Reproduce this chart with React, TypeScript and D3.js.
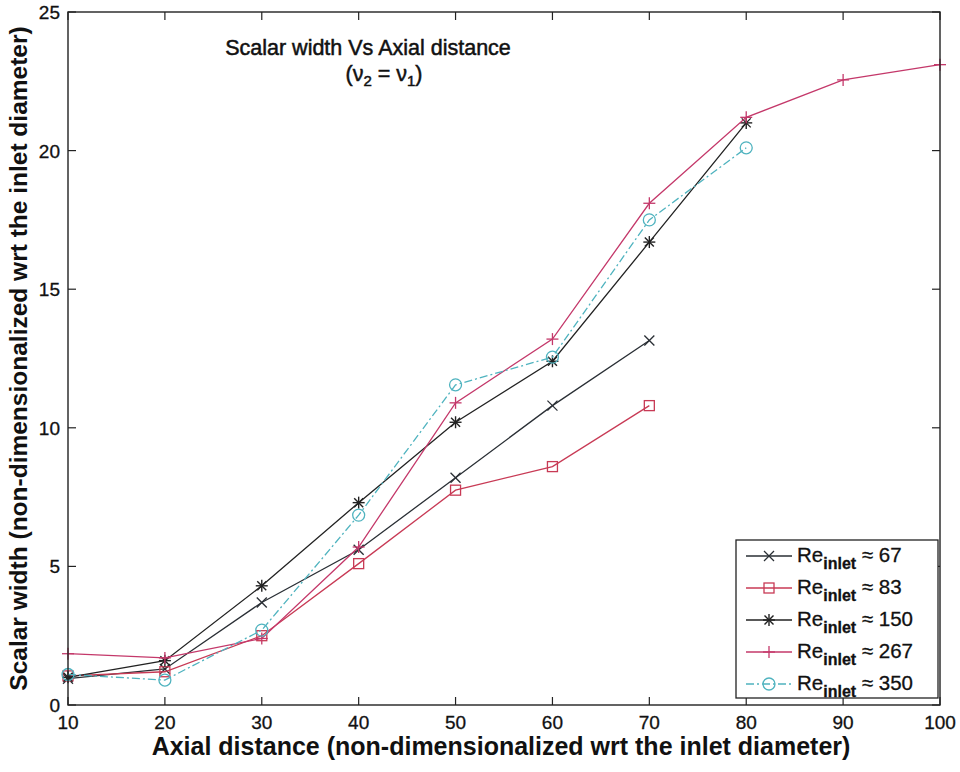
import React from "react";
import * as d3 from "d3";

const xTicks = [10, 20, 30, 40, 50, 60, 70, 80, 90, 100];
const yTicks = [0, 5, 10, 15, 20, 25];

const x67 = [10, 20, 30, 40, 50, 60, 70];
const y67 = [0.95, 1.3, 3.7, 5.6, 8.2, 10.8, 13.15];
const x83 = [10, 20, 30, 40, 50, 60, 70];
const y83 = [1.05, 1.2, 2.5, 5.1, 7.75, 8.6, 10.8];
const x150 = [10, 20, 30, 40, 50, 60, 70, 80];
const y150 = [1.0, 1.6, 4.3, 7.3, 10.2, 12.4, 16.7, 21.0];
const x267 = [10, 20, 30, 40, 50, 60, 70, 80, 90, 100];
const y267 = [1.85, 1.7, 2.4, 5.7, 10.9, 13.2, 18.1, 21.2, 22.55, 23.1];
const x350 = [10, 20, 30, 40, 50, 60, 70, 80];
const y350 = [1.1, 0.9, 2.7, 6.85, 11.55, 12.55, 17.5, 20.1];

const series = [
  { label: "67", xs: x67, ys: y67, color: "#2a2f35", marker: "x", dash: "" },
  { label: "83", xs: x83, ys: y83, color: "#c83a55", marker: "square", dash: "" },
  { label: "150", xs: x150, ys: y150, color: "#222222", marker: "star", dash: "" },
  { label: "267", xs: x267, ys: y267, color: "#c4386a", marker: "plus", dash: "" },
  { label: "350", xs: x350, ys: y350, color: "#4fb3bf", marker: "circle", dash: "8,3,2,3" },
];

const L = 68, R = 940, T = 12, B = 705;
const FONT = "Liberation Sans, Arial, sans-serif";

function Marker({ type, cx, cy, color }: { type: string; cx: number; cy: number; color: string }) {
  const s = 5;
  if (type === "x")
    return (
      <g stroke={color} strokeWidth={1.3}>
        <line x1={cx - s} y1={cy - s} x2={cx + s} y2={cy + s} />
        <line x1={cx - s} y1={cy + s} x2={cx + s} y2={cy - s} />
      </g>
    );
  if (type === "plus")
    return (
      <g stroke={color} strokeWidth={1.3}>
        <line x1={cx - 6} y1={cy} x2={cx + 6} y2={cy} />
        <line x1={cx} y1={cy - 6} x2={cx} y2={cy + 6} />
      </g>
    );
  if (type === "star")
    return (
      <g stroke={color} strokeWidth={1.4}>
        <line x1={cx - 6} y1={cy} x2={cx + 6} y2={cy} />
        <line x1={cx} y1={cy - 6} x2={cx} y2={cy + 6} />
        <line x1={cx - 4.5} y1={cy - 4.5} x2={cx + 4.5} y2={cy + 4.5} />
        <line x1={cx - 4.5} y1={cy + 4.5} x2={cx + 4.5} y2={cy - 4.5} />
      </g>
    );
  if (type === "square")
    return <rect x={cx - 5} y={cy - 5} width={10} height={10} fill="none" stroke={color} strokeWidth={1.3} />;
  return <circle cx={cx} cy={cy} r={6} fill="none" stroke={color} strokeWidth={1.3} />;
}

export default function App() {
  const xs = d3.scaleLinear().domain([10, 100]).range([L, R]);
  const ys = d3.scaleLinear().domain([0, 25]).range([B, T]);
  const line = d3
    .line<[number, number]>()
    .x((d) => xs(d[0]))
    .y((d) => ys(d[1]));

  const legX = 736, legY = 540, legW = 202, legH = 158;
  const rowH = 32;
  const semi = { stroke: "#111", strokeWidth: 0.5 };

  return (
    <svg width={960} height={772} style={{ position: "absolute", left: 0, top: 0, background: "#fff" }} fontFamily={FONT}>
      <rect x={0} y={0} width={960} height={772} fill="#fff" />
      {series.map((s) => (
        <g key={s.label}>
          <path
            d={line(s.xs.map((v, i) => [v, s.ys[i]] as [number, number])) || ""}
            fill="none"
            stroke={s.color}
            strokeWidth={1.3}
            strokeDasharray={s.dash}
          />
          {s.xs.map((v, i) => (
            <Marker key={i} type={s.marker} cx={xs(v)} cy={ys(s.ys[i])} color={s.color} />
          ))}
        </g>
      ))}
      <rect x={L} y={T} width={R - L} height={B - T} fill="none" stroke="#222" strokeWidth={1.4} />
      {xTicks.map((t) => (
        <g key={"xt" + t}>
          <line x1={xs(t)} x2={xs(t)} y1={B} y2={B - 8} stroke="#222" strokeWidth={1.2} />
          <line x1={xs(t)} x2={xs(t)} y1={T} y2={T + 8} stroke="#222" strokeWidth={1.2} />
          <text x={xs(t)} y={B + 24} fontSize={19} textAnchor="middle" fill="#111" {...semi} strokeWidth={0.3}>
            {t}
          </text>
        </g>
      ))}
      {yTicks.map((t) => (
        <g key={"yt" + t}>
          <line x1={L} x2={L + 8} y1={ys(t)} y2={ys(t)} stroke="#222" strokeWidth={1.2} />
          <line x1={R} x2={R - 8} y1={ys(t)} y2={ys(t)} stroke="#222" strokeWidth={1.2} />
          <text x={L - 8} y={ys(t) + 7} fontSize={19} textAnchor="end" fill="#111" {...semi} strokeWidth={0.3}>
            {t}
          </text>
        </g>
      ))}
      <text x={368} y={55} fontSize={21.5} textAnchor="middle" fill="#111" {...semi}>
        Scalar width Vs Axial distance
      </text>
      <text x={384} y={81} fontSize={21.5} textAnchor="middle" fill="#111" {...semi}>
        (ν<tspan fontSize={15} dy={5}>2</tspan>
        <tspan dy={-5}> = ν</tspan>
        <tspan fontSize={15} dy={5}>1</tspan>
        <tspan dy={-5}>)</tspan>
      </text>
      <text x={501} y={755} fontSize={25} textAnchor="middle" fill="#111" fontWeight="bold">
        Axial distance (non-dimensionalized wrt the inlet diameter)
      </text>
      <text
        transform={`translate(27, ${(T + B) / 2}) rotate(-90)`}
        fontSize={24.5}
        textAnchor="middle"
        fill="#111"
        fontWeight="bold"
      >
        Scalar width (non-dimensionalized wrt the inlet diameter)
      </text>
      <rect x={legX} y={legY} width={legW} height={legH} fill="#fff" stroke="#222" strokeWidth={1.3} />
      {series.map((s, i) => {
        const cy = legY + 16 + i * rowH;
        return (
          <g key={"lg" + s.label}>
            <line x1={legX + 10} x2={legX + 56} y1={cy} y2={cy} stroke={s.color} strokeWidth={1.3} strokeDasharray={s.dash} />
            <Marker type={s.marker} cx={legX + 33} cy={cy} color={s.color} />
            <text x={legX + 61} y={cy + 6} fontSize={20.5} fill="#111" {...semi} strokeWidth={0.3}>
              Re
              <tspan fontSize={16} dy={7} fontWeight="bold">inlet</tspan>
              <tspan dy={-7}> ≈ {s.label}</tspan>
            </text>
          </g>
        );
      })}
    </svg>
  );
}
